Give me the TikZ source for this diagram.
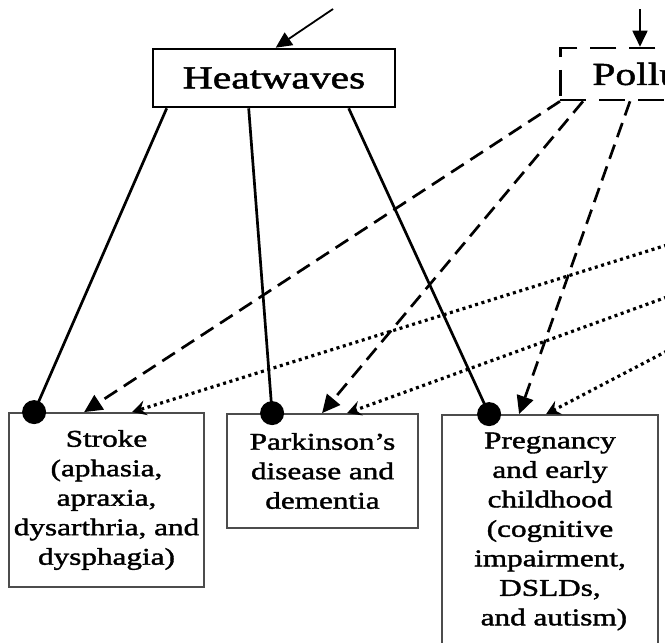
\documentclass[tikz,border=0pt]{standalone}
\usepackage{fontspec}
\setmainfont{Liberation Serif}[FakeStretch=1.3, FakeBold=1.6]
\usetikzlibrary{arrows.meta}
\begin{document}
\begin{tikzpicture}[x=1pt,y=-1pt,
  box/.style={draw=black!70, line width=1.8pt, align=center, inner xsep=2pt, inner ysep=0pt, font=\fontsize{24}{29.5}\selectfont},
  topbox/.style={draw, line width=2.6pt, inner sep=0pt, font=\fontsize{32}{38}\selectfont},
  dotnode/.style={circle, fill, inner sep=0pt, minimum size=24pt},
  solidlink/.style={line width=2.7pt},
  dashlink/.style={line width=2.7pt, dash pattern=on 15pt off 8pt, -{Triangle[length=18pt,width=17pt]}},
  dotlink/.style={line width=3.2pt, dash pattern=on 3pt off 3.6pt, -{Stealth[length=14pt,width=15pt,inset=5pt]}},
  toplink/.style={line width=1.8pt, -{Triangle[length=16pt,width=15pt]}}
]
\useasboundingbox (0,0) rectangle (665,643);
\clip (0,0) rectangle (665,643);

% top boxes
\node[topbox, minimum width=242pt, minimum height=58pt] (hw) at (274,78) {Heatwaves};
\node[topbox, dash pattern=on 26pt off 13pt, minimum height=52pt, anchor=west, inner xsep=32pt] (pol) at (559,74) {Pollution};

% bottom boxes
\node[box, minimum width=195pt, minimum height=174pt] (stroke) at (106.5,500) {Stroke\\(aphasia,\\apraxia,\\dysarthria, and\\dysphagia)};
\node[box, minimum width=191pt, minimum height=114pt] (park) at (322.5,471) {Parkinson’s\\disease and\\dementia};
\node[box, minimum width=216pt, minimum height=233pt] (preg) at (550,531.5) {Pregnancy\\and early\\childhood\\(cognitive\\impairment,\\DSLDs,\\~and autism)};

% incoming arrows from above
\coordinate (hwin) at (333,9);
\coordinate (polin) at (640,9);
\draw[toplink] (hwin) -- ([xshift=124pt]hw.north west);
\draw[toplink] (polin) -- ([xshift=81pt]pol.north west);

% dots
\node[dotnode] (d1) at ([xshift=26pt]stroke.north west) {};
\node[dotnode] (d2) at ([xshift=46pt]park.north west) {};
\node[dotnode] (d3) at ([xshift=48pt]preg.north west) {};

% solid links from Heatwaves
\draw[solidlink] ([xshift=15pt]hw.south west) -- (d1.center);
\draw[solidlink] ([xshift=97pt]hw.south west) -- (d2.center);
\draw[solidlink] ([xshift=197pt]hw.south west) -- (d3.center);

% dashed links from Pollution
\draw[dashlink] ([xshift=1pt]pol.south west) -- ([xshift=76pt]stroke.north west);
\draw[dashlink] ([xshift=24pt]pol.south west) -- ([xshift=96pt]park.north west);
\draw[dashlink] ([xshift=71pt]pol.south west) -- ([xshift=78pt]preg.north west);

% dotted links from the right
\coordinate (r1) at (667,245);
\coordinate (r2) at (667,297);
\coordinate (r3) at (667,351);
\draw[dotlink] (r1) -- ([xshift=124pt]stroke.north west);
\draw[dotlink] (r2) -- ([xshift=121pt]park.north west);
\draw[dotlink] (r3) -- ([xshift=105pt]preg.north west);
\end{tikzpicture}
\end{document}
